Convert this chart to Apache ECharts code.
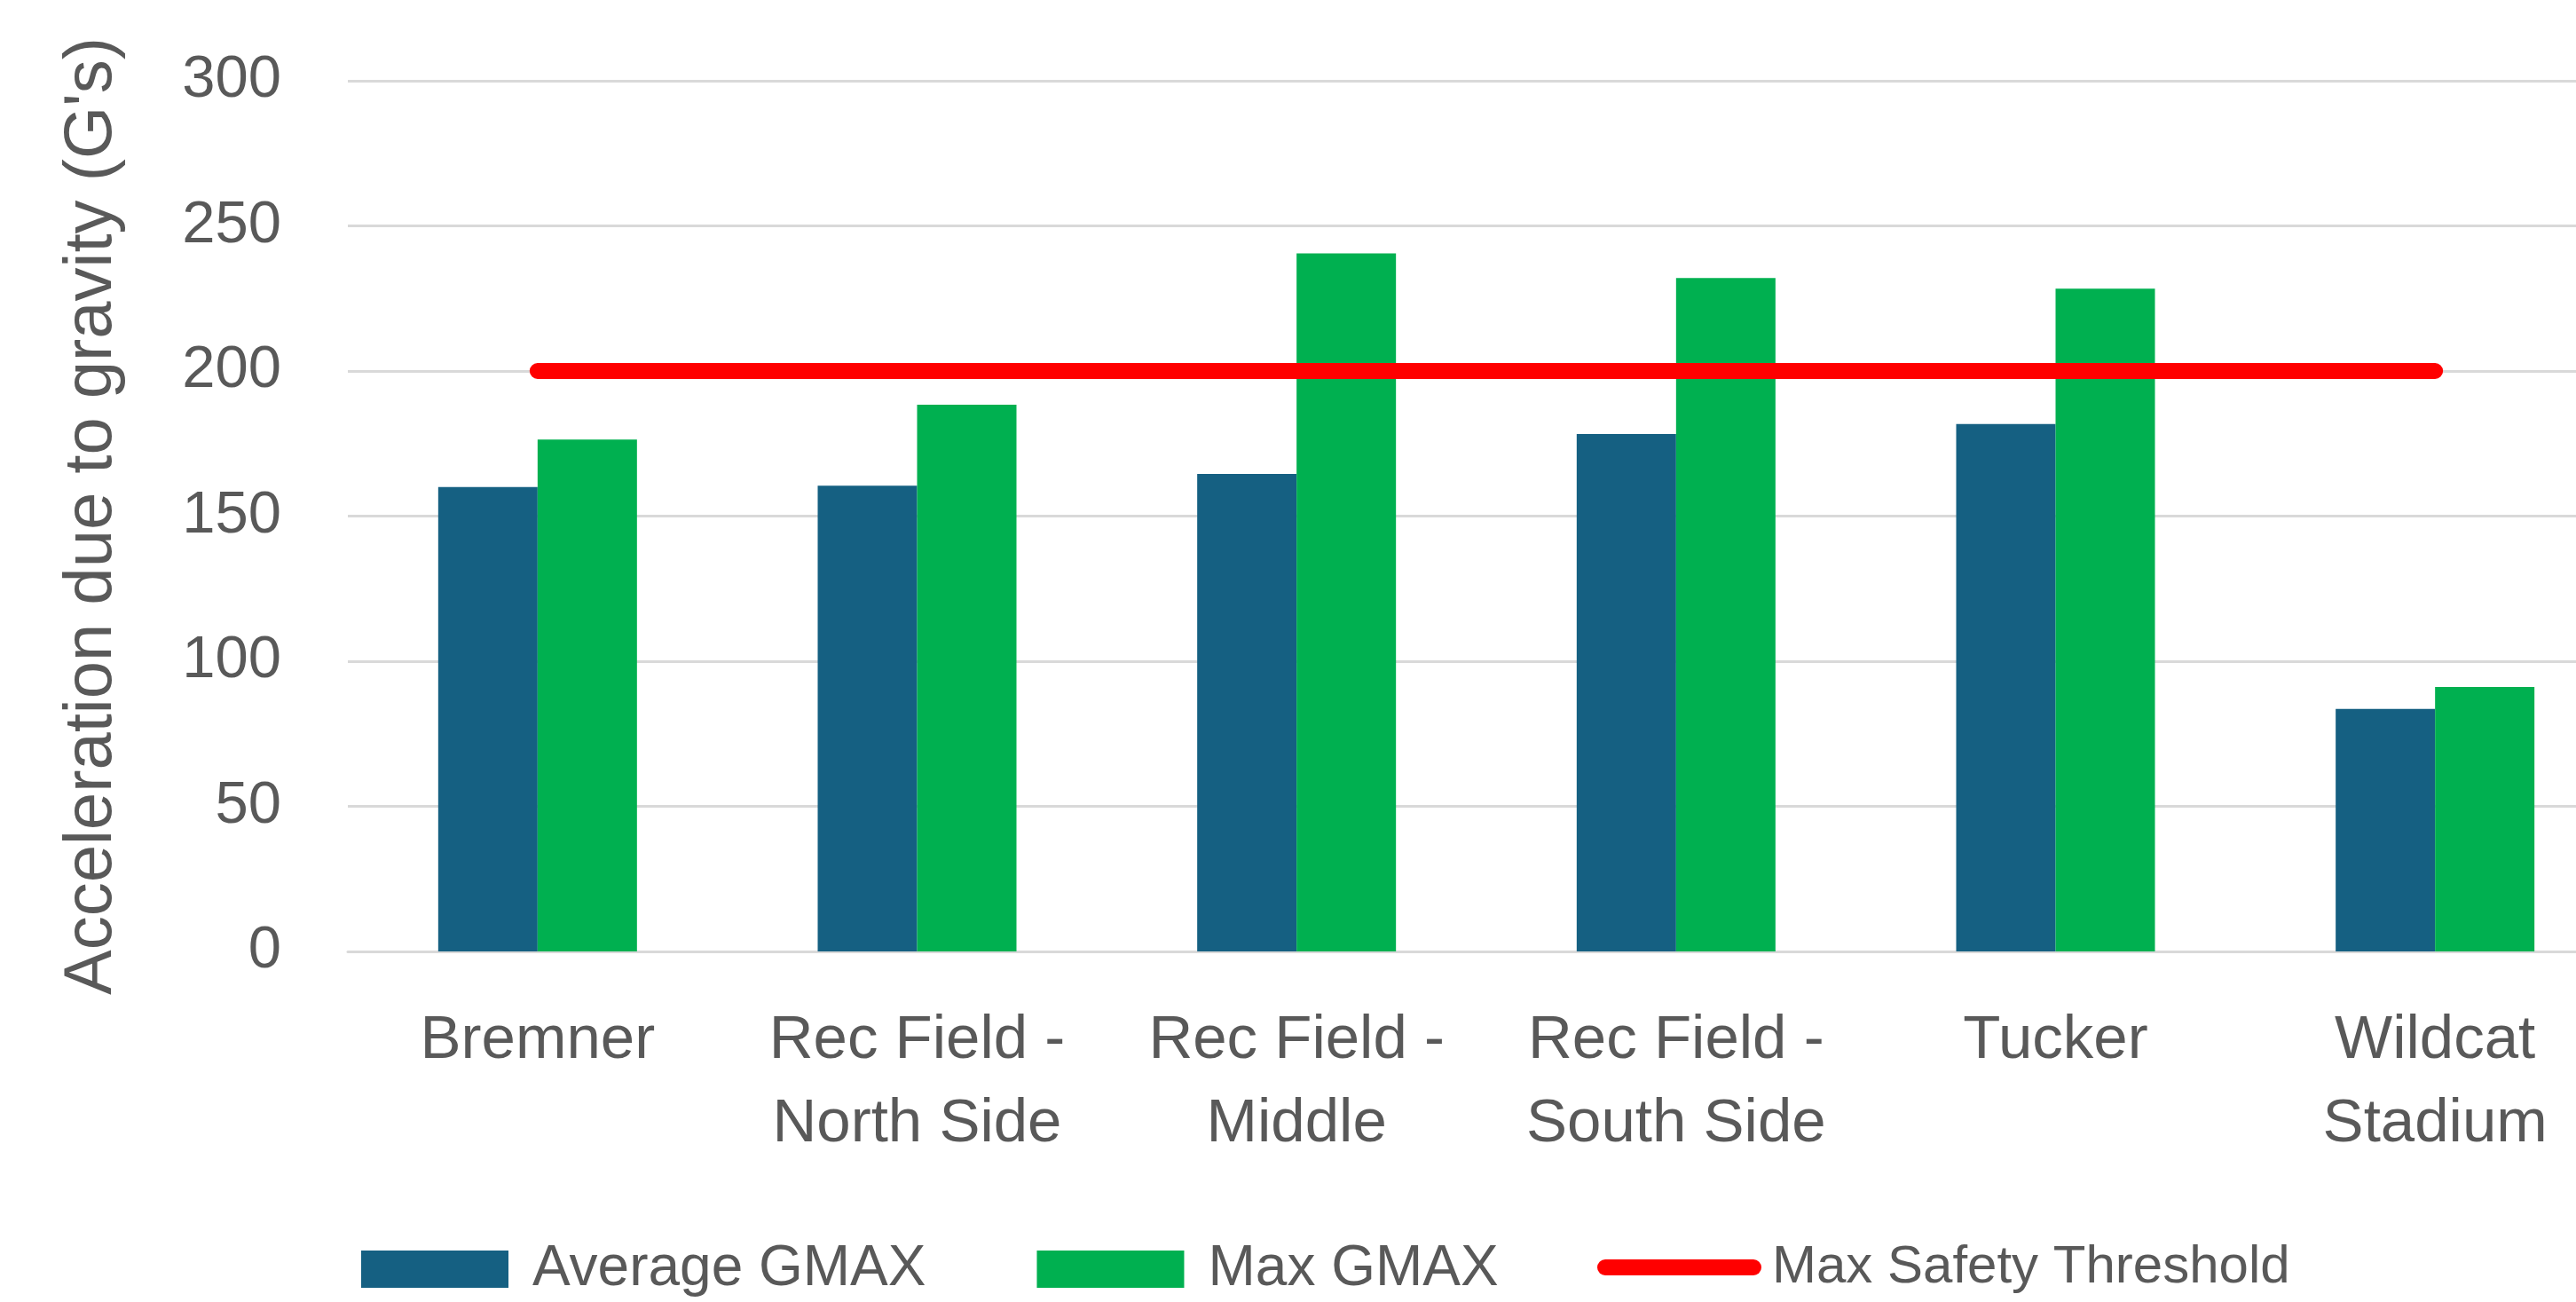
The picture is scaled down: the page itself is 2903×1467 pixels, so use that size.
<!DOCTYPE html>
<html>
<head>
<meta charset="utf-8">
<title>GMAX by field</title>
<script src="https://cdn.jsdelivr.net/npm/echarts@6/dist/echarts.min.js"></script>
<style>
  html, body { margin: 0; padding: 0; background: #ffffff; }
  #chart { width: 2903px; height: 1467px; }
</style>
</head>
<body>
<div id="chart"></div>
<script>
// Field names (two-line labels where the name wraps)
const fields = ['Bremner', 'Rec Field -\nNorth Side', 'Rec Field -\nMiddle', 'Rec Field -\nSouth Side', 'Tucker', 'Wildcat\nStadium'];
// GMAX readings per field
const averageGmax = [160, 160.5, 164.5, 178.3, 181.7, 83.6];
const maxGmax = [176.4, 188.4, 240.5, 232, 228.4, 91.1];
// Safety threshold applied to every field
const safetyThreshold = [200, 200, 200, 200, 200, 200];
// Value axis ticks
const yMin = 0, yMax = 300, yStep = 50;

const textGray = '#595959';
const gridGray = '#D9D9D9';
const thresholdRed = '#FF0000';
// rounded bar used as the legend key of the threshold line
const pillIcon = 'path://M9,0 L176,0 A9,9 0 0 1 176,18 L9,18 A9,9 0 0 1 9,0 Z';

const chart = echarts.init(document.getElementById('chart'), null, { renderer: 'canvas' });
chart.setOption({
  backgroundColor: '#ffffff',
  animation: false,
  textStyle: { fontFamily: 'Liberation Sans, Arial, sans-serif' },
  // plot area runs past the right edge of the canvas
  grid: { left: 392, top: 91, right: -55, bottom: 395, containLabel: false, outerBoundsMode: 'none' },
  legend: [
    {
      left: 402,
      top: 1393,
      itemWidth: 166,
      itemHeight: 42,
      itemGap: 125,
      textStyle: { fontSize: 64, color: textGray, padding: [0, 0, 0, 22] },
      data: [
        { name: 'Average GMAX', icon: 'rect' },
        { name: 'Max GMAX', icon: 'rect' }
      ]
    },
    {
      left: 1795,
      top: 1393,
      itemWidth: 185,
      itemHeight: 18,
      textStyle: { fontSize: 60, color: textGray, padding: [0, 0, 0, 7] },
      data: [
        { name: 'Max Safety Threshold', icon: pillIcon }
      ]
    }
  ],
  xAxis: {
    type: 'category',
    data: fields,
    axisTick: { show: false },
    axisLine: { lineStyle: { color: gridGray, width: 3 } },
    axisLabel: { interval: 0, fontSize: 69, lineHeight: 94, color: textGray, margin: 54 }
  },
  yAxis: {
    type: 'value',
    min: yMin,
    max: yMax,
    interval: yStep,
    name: "Acceleration due to gravity (G's)",
    nameLocation: 'middle',
    nameGap: 250,
    nameTextStyle: { fontSize: 76, color: textGray },
    axisLine: { show: false },
    axisTick: { show: false },
    axisLabel: { fontSize: 67, color: textGray, margin: 75 },
    splitLine: { lineStyle: { color: gridGray, width: 3 } }
  },
  series: [
    {
      name: 'Average GMAX',
      type: 'bar',
      data: averageGmax,
      barWidth: 112,
      barGap: '0%',
      itemStyle: { color: '#156082' }
    },
    {
      name: 'Max GMAX',
      type: 'bar',
      data: maxGmax,
      barWidth: 112,
      barGap: '0%',
      itemStyle: { color: '#00B050' }
    },
    {
      name: 'Max Safety Threshold',
      type: 'line',
      data: safetyThreshold,
      symbol: 'none',
      showSymbol: false,
      z: 5,
      lineStyle: { color: thresholdRed, width: 18, cap: 'round' },
      itemStyle: { color: thresholdRed }
    }
  ]
});
</script>
</body>
</html>
